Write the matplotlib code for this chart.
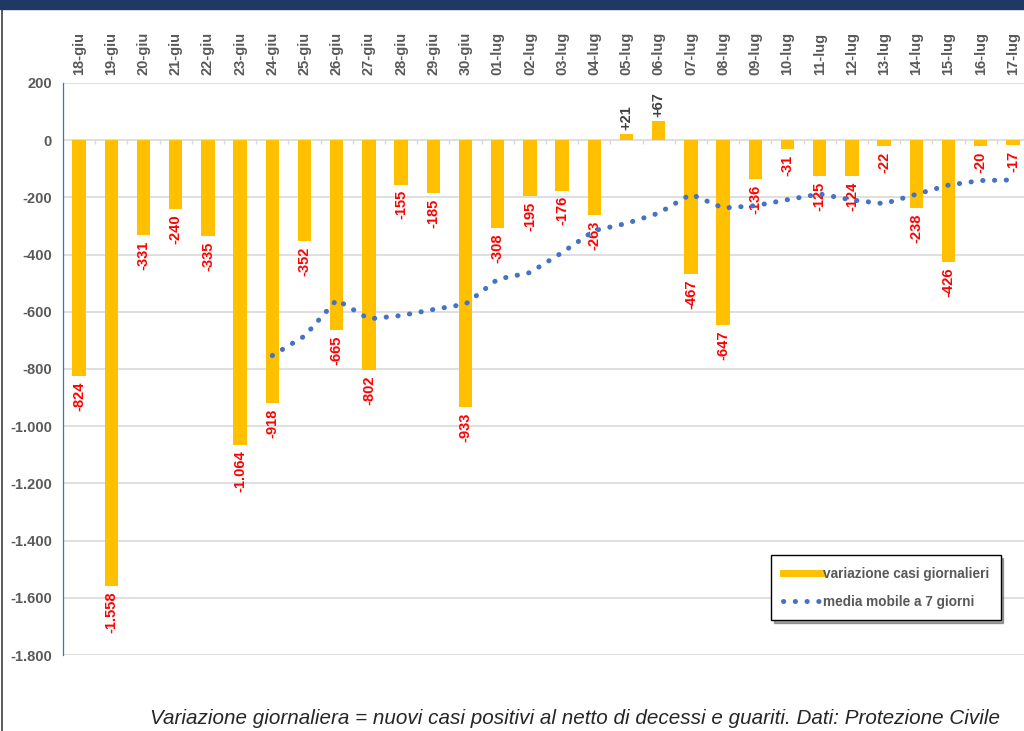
import matplotlib.pyplot as plt
from matplotlib.lines import Line2D
from matplotlib.patches import Rectangle

plt.rcParams['font.family'] = ['Liberation Sans', 'DejaVu Sans']

# Dates and daily variation of active cases
giorni = ['18-giu', '19-giu', '20-giu', '21-giu', '22-giu', '23-giu', '24-giu',
          '25-giu', '26-giu', '27-giu', '28-giu', '29-giu', '30-giu', '01-lug',
          '02-lug', '03-lug', '04-lug', '05-lug', '06-lug', '07-lug', '08-lug',
          '09-lug', '10-lug', '11-lug', '12-lug', '13-lug', '14-lug', '15-lug',
          '16-lug', '17-lug']
variazione = [-824, -1558, -331, -240, -335, -1064, -918, -352, -665, -802,
              -155, -185, -933, -308, -195, -176, -263, 21, 67, -467, -647,
              -136, -31, -125, -124, -22, -238, -426, -20, -17]

# 7 day moving average, from 24-giu onwards
media_giorni = giorni[6:]
media_mobile = [-753, -685, -558, -625, -613, -592, -573, -486, -463, -393,
                -316, -291, -255, -189, -237, -229, -208, -188, -209, -222,
                -189, -157, -141, -139]

y_ticks = list(range(-1800, 201, 200))

GIALLO = '#FFC000'
BLU = '#4472C4'
GRIGIO = '#595959'
DOTS = (0, (0.05, 2.3))


def fmt_it(v):
    # Italian thousands separator
    s = f"{abs(v):,}".replace(',', '.')
    return ('-' if v < 0 else '') + s


fig = plt.figure(figsize=(10.24, 7.31), dpi=100)
ax = fig.add_axes([63 / 1024, 1 - 655 / 731, 966 / 1024, 572 / 731])

x = list(range(len(giorni)))
ax.bar(x, variazione, width=0.42, color=GIALLO, zorder=2)

pos = {g: i for i, g in enumerate(giorni)}
ax.plot([pos[g] for g in media_giorni], media_mobile, color=BLU, lw=3.6,
        linestyle=DOTS, dash_capstyle='round', zorder=4)

for i, v in enumerate(variazione):
    if v < 0:
        ax.annotate(fmt_it(v), (i, v), xytext=(0, -4), textcoords='offset points',
                    rotation=90, ha='center', va='top', color='#FF0000',
                    fontsize=10.5, fontweight='bold', zorder=3)
    else:
        ax.annotate('+' + fmt_it(v), (i, v), xytext=(0, 3), textcoords='offset points',
                    rotation=90, ha='center', va='bottom', color='#404040',
                    fontsize=10.5, fontweight='bold', zorder=3)

ax.set_xlim(-0.5, len(giorni) - 0.5)
ax.set_ylim(-1800, 200)
ax.set_yticks(y_ticks)
ax.set_yticklabels([fmt_it(t) for t in y_ticks])
ax.set_xticks(x)
ax.set_xticklabels(giorni, rotation=90)
ax.xaxis.tick_top()
ax.tick_params(axis='x', length=0, pad=6, labelsize=10.5, labelcolor=GRIGIO)
ax.tick_params(axis='y', length=0, pad=8, labelsize=10.5, labelcolor=GRIGIO)
for lab in ax.get_xticklabels() + ax.get_yticklabels():
    lab.set_fontweight('bold')

ax.grid(axis='y', color='#D9D9D9', lw=1.2, zorder=0)
ax.set_axisbelow(True)
# small category ticks on the zero line
ax.vlines([i + 0.5 for i in x[:-1]], -12, 0, color='#D9D9D9', lw=1, zorder=1)
for s in ['top', 'right', 'bottom']:
    ax.spines[s].set_visible(False)
ax.spines['left'].set_color(BLU)
ax.spines['left'].set_linewidth(0.9)

handles = [Line2D([], [], color=GIALLO, lw=5),
           Line2D([], [], color=BLU, lw=3.6, linestyle=DOTS, dash_capstyle='round')]
leg = fig.legend(handles, ['variazione casi giornalieri', 'media mobile a 7 giorni'],
                 loc='upper left', bbox_to_anchor=(771 / 1024, 1 - 555 / 731),
                 frameon=True, fancybox=False, shadow=True, edgecolor='black',
                 framealpha=1, prop={'weight': 'bold', 'size': 9.8},
                 handlelength=2.8, handletextpad=0.15, borderpad=0.85,
                 labelspacing=1.05, borderaxespad=0)
for t in leg.get_texts():
    t.set_color(GRIGIO)

# navy title strip at top and left frame line
fig.patches.append(Rectangle((0, 1 - 9 / 731), 1, 9 / 731, transform=fig.transFigure,
                             color='#1F3864', zorder=10))
fig.lines.append(Line2D([2 / 1024, 2 / 1024], [0, 1 - 9 / 731], transform=fig.transFigure,
                        color='#404040', lw=1.2))

fig.text(150 / 1024, 1 - 718 / 731,
         'Variazione giornaliera = nuovi casi positivi al netto di decessi e guariti. Dati: Protezione Civile',
         style='italic', fontsize=14.9, color='#262626', va='center', ha='left')

fig.savefig('out.png', dpi=100)
